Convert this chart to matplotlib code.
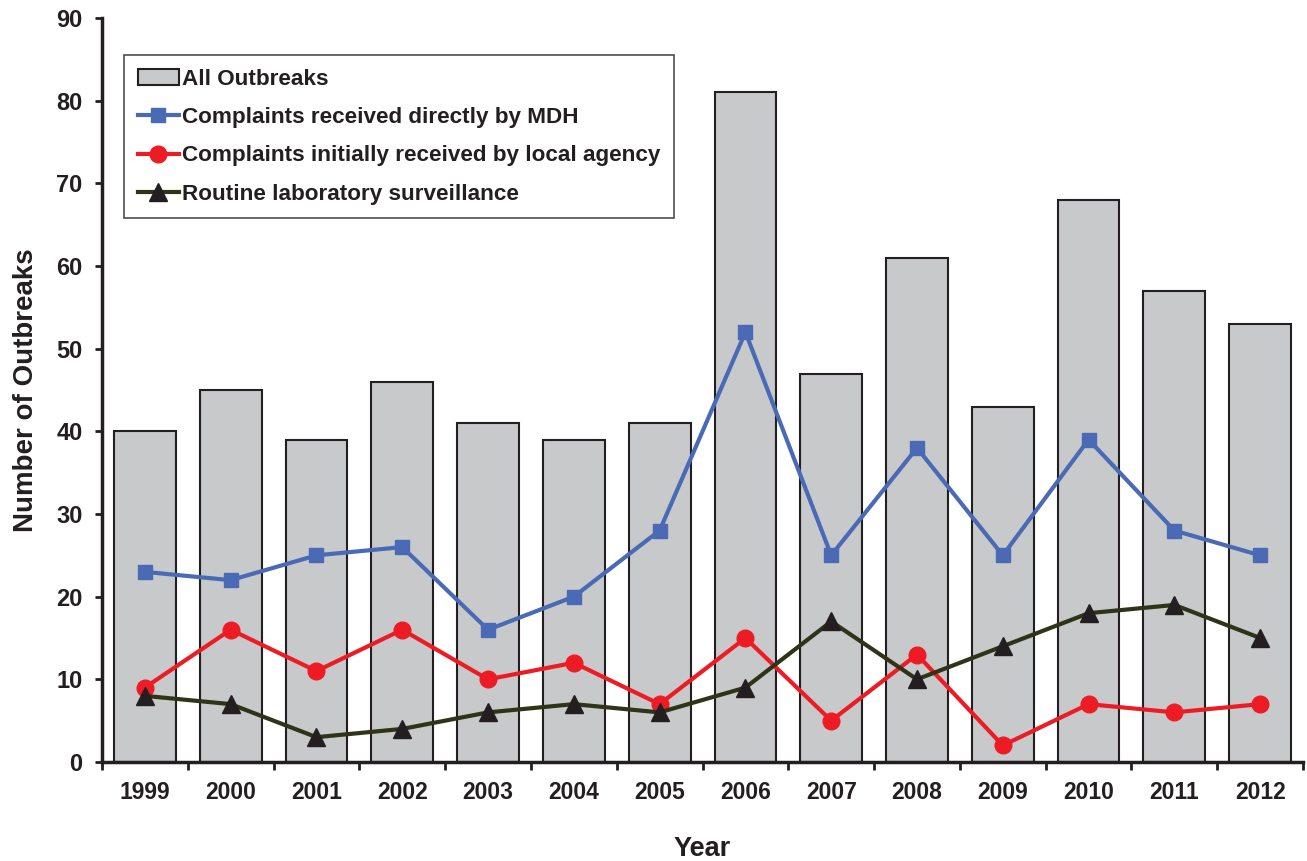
import matplotlib
matplotlib.use("Agg")
import matplotlib.pyplot as plt
import numpy as np

plt.rcParams['font.family'] = ['Liberation Sans', 'DejaVu Sans']
plt.rcParams['font.weight'] = 'bold'

years = ['1999', '2000', '2001', '2002', '2003', '2004', '2005',
         '2006', '2007', '2008', '2009', '2010', '2011', '2012']
all_outbreaks = [40, 45, 39, 46, 41, 39, 41, 81, 47, 61, 43, 68, 57, 53]
mdh_complaints = [23, 22, 25, 26, 16, 20, 28, 52, 25, 38, 25, 39, 28, 25]
local_complaints = [9, 16, 11, 16, 10, 12, 7, 15, 5, 13, 2, 7, 6, 7]
lab_surveillance = [8, 7, 3, 4, 6, 7, 6, 9, 17, 10, 14, 18, 19, 15]

x = np.arange(len(years))
ink = '#231f20'

fig = plt.figure(figsize=(13.07, 8.61), dpi=100)
ax = fig.add_axes([0.078, 0.115, 0.919, 0.864])

h_bar = ax.bar(x, all_outbreaks, width=0.72, color='#c8c9cb', edgecolor=ink,
               linewidth=1.5, label='All Outbreaks', zorder=1)
h_mdh, = ax.plot(x, mdh_complaints, color='#4a6ab5', lw=3.0, marker='s', ms=10.5,
                 label='Complaints received directly by MDH', zorder=3)
h_loc, = ax.plot(x, local_complaints, color='#ed1c24', lw=3.0, marker='o', ms=12,
                 label='Complaints initially received by local agency', zorder=3)
h_lab, = ax.plot(x, lab_surveillance, color='#2f3318', lw=3.0, marker='^', ms=12.5,
                 markerfacecolor=ink, markeredgecolor=ink,
                 label='Routine laboratory surveillance', zorder=4)

ax.set_xlim(-0.5, len(years) - 0.5)
ax.set_ylim(0, 90)
ax.set_yticks(np.arange(0, 91, 10))
ax.set_xticks(np.arange(-0.5, len(years), 1.0))
ax.set_xticklabels([])
ax.set_xticks(x, minor=True)
ax.set_xticklabels(years, minor=True)
ax.tick_params(axis='x', which='minor', length=0, pad=14, labelsize=16.5)
ax.tick_params(axis='x', which='major', length=6, width=2, direction='out',
               color=ink)
ax.tick_params(axis='y', length=5, width=2, direction='out', labelsize=17,
               color=ink, pad=9)
for lab in ax.get_xticklabels(minor=True) + ax.get_yticklabels():
    lab.set_fontweight('bold')
    lab.set_color(ink)

for side in ['top', 'right']:
    ax.spines[side].set_visible(False)
for side in ['left', 'bottom']:
    ax.spines[side].set_linewidth(2.5)
    ax.spines[side].set_color(ink)

ax.set_xlabel('Year', fontsize=19.5, fontweight='bold', labelpad=23, color=ink)
ax.set_ylabel('Number of Outbreaks', fontsize=20, fontweight='bold', labelpad=12,
              color=ink)

leg = ax.legend([h_bar, h_mdh, h_loc, h_lab],
                [h.get_label() for h in (h_bar, h_mdh, h_loc, h_lab)],
                loc='upper left', bbox_to_anchor=(0.018, 0.95), fontsize=16.2,
                frameon=True, fancybox=False, edgecolor=ink,
                handlelength=1.85, handleheight=0.7, handletextpad=0.12,
                labelspacing=0.76, borderpad=0.62, borderaxespad=0)
leg.get_frame().set_linewidth(1.2)
for t in leg.get_texts():
    t.set_fontweight('bold')
    t.set_color(ink)

fig.savefig('out.png', dpi=100)
